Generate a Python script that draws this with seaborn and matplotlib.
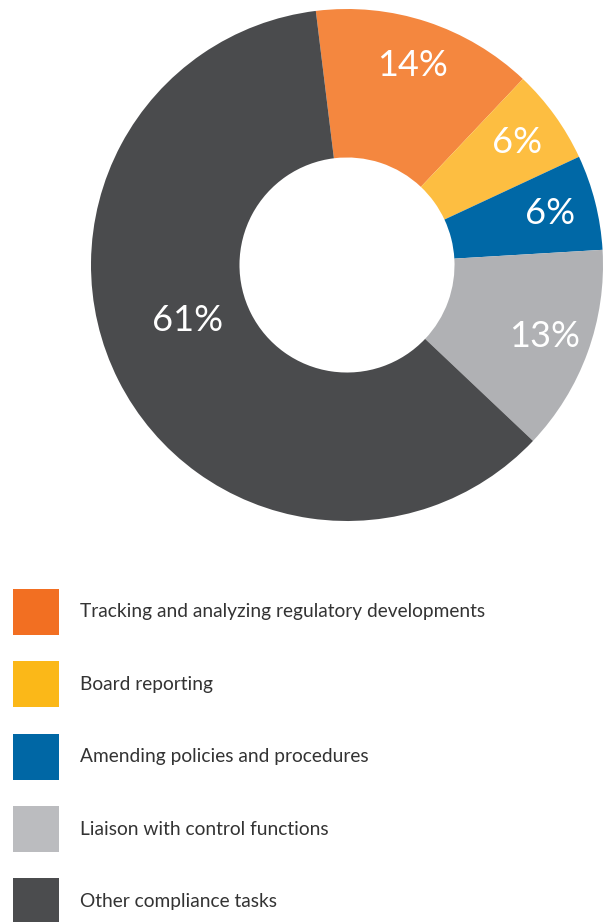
import matplotlib.pyplot as plt
import numpy as np
import seaborn as sns
from matplotlib.patches import Patch

categories = [
    "Tracking and analyzing regulatory developments",
    "Board reporting",
    "Amending policies and procedures",
    "Liaison with control functions",
    "Other compliance tasks",
]
shares = [14, 6, 6, 13, 61]
pie_colors = ["#F4873F", "#FDBE41", "#0068A6", "#B0B1B4", "#4A4B4D"]
legend_colors = ["#F26F22", "#FBB818", "#0067A5", "#BBBCBF", "#4B4C4E"]

sns.set_theme(style="white")
plt.rcParams["font.family"] = ["Lato", "DejaVu Sans"]

fig = plt.figure(figsize=(6.09, 9.22), dpi=100)
ax = fig.add_axes([91 / 609, 1 - 521 / 922, 512 / 609, 512 / 922])

wedges, _, autotexts = ax.pie(
    shares,
    colors=pie_colors,
    startangle=97,
    counterclock=False,
    autopct=lambda p: f"{p:.0f}%",
    pctdistance=0.82,
    wedgeprops=dict(width=0.58, linewidth=0),
    textprops=dict(color="white", fontsize=26),
)
ax.set_xlim(-1, 1)
ax.set_ylim(-1, 1)
ax.set_aspect("equal")

# the big slice label sits nearer the hole, a bit above its middle
ang = np.deg2rad(-161)
autotexts[-1].set_position((0.66 * np.cos(ang), 0.66 * np.sin(ang)))

handles = [Patch(facecolor=c, edgecolor="none") for c in legend_colors]
fig.legend(
    handles,
    categories,
    loc="upper left",
    bbox_to_anchor=(13 / 609, 1 - 589 / 922),
    frameon=False,
    fontsize=13.75,
    labelcolor="#333333",
    handlelength=2.41,
    handleheight=3.33,
    handletextpad=1.1,
    labelspacing=1.38,
    borderpad=0,
    borderaxespad=0,
)

fig.savefig("out.png", dpi=100)
